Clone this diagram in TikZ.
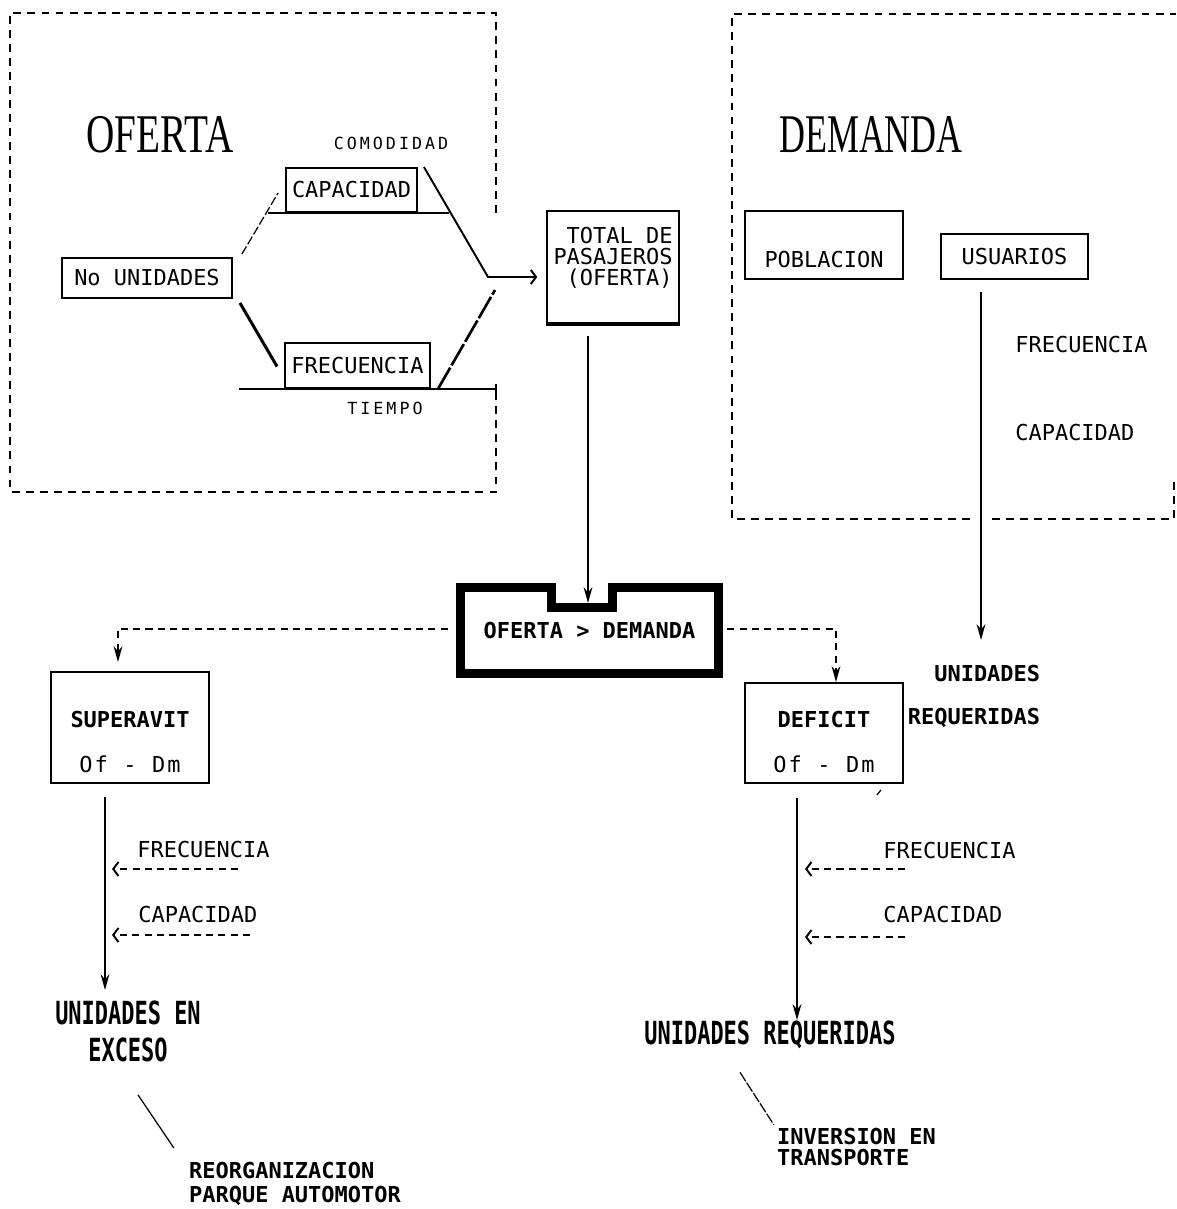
\documentclass[tikz,border=0pt]{standalone}
\usepackage{fontspec}
\usepackage{graphicx}
\usetikzlibrary{arrows.meta,positioning,calc}
\newfontfamily\plotfont{DejaVu Sans Mono}
\newfontfamily\plotwide[LetterSpace=10]{DejaVu Sans Mono}
\newfontfamily\plotsmall[LetterSpace=18]{DejaVu Sans Mono}
\newfontfamily\titlefont{Liberation Serif}
\newcommand{\narrowtitle}[2]{\scalebox{#1}[1]{#2}}
\newcommand{\tallbold}[1]{\scalebox{1}[1.45]{\bfseries #1}}
\tikzset{
  plotbox/.style={rectangle,draw,line width=1.1pt,inner sep=0pt,align=center,font=\plotfont\fontsize{12.5}{14}\selectfont},
  lbl/.style={inner sep=0pt,align=center,font=\plotfont\fontsize{12.5}{14}\selectfont},
  boldlbl/.style={lbl,font=\plotfont\bfseries\fontsize{12.5}{14}\selectfont},
  smalllbl/.style={inner sep=0pt,font=\plotsmall\fontsize{9.5}{11}\selectfont},
  titlelbl/.style={inner sep=0pt,font=\titlefont\fontsize{31}{34}\selectfont},
  frame/.style={line width=0.8pt,dash pattern=on 4.5pt off 3.5pt},
  link/.style={line width=1.1pt},
  arrow/.style={-{Stealth[length=9pt,width=5pt]},line width=1.1pt},
  dasharrow/.style={arrow,dash pattern=on 4pt off 3pt},
  feed/.style={-{Straight Barb[length=3pt,width=8pt]},line width=1.1pt,dash pattern=on 4pt off 3pt},
  hair/.style={line width=0.7pt}
}
\begin{document}
\begin{tikzpicture}[x=0.02cm,y=-0.02cm]
\useasboundingbox (0,0) rectangle (1176,1209);
\draw[frame] (496,213) -- (496,13) -- (10,13) -- (10,492) -- (496,492) -- (496,388);
\draw[frame] (970,519) -- (732,519) -- (732,14) -- (1176,14);
\draw[frame] (992,519) -- (1174,519) -- (1174,478);
\node[titlelbl] (oftitle) at (160,135) {\narrowtitle{0.72}{OFERTA}};
\node[titlelbl] (demtitle) at (871,135) {\narrowtitle{0.66}{DEMANDA}};
\node[smalllbl] (comod) at (391,143) {COMODIDAD};
\node[smalllbl] (tiempo) at (385,408) {TIEMPO};
\node[plotbox,minimum width=3.4cm,minimum height=0.8cm] (unid) at (147,278) {No UNIDADES};
\node[plotbox,minimum width=2.62cm,minimum height=0.88cm] (cap) at (351.5,190) {CAPACIDAD};
\node[plotbox,minimum width=2.9cm,minimum height=0.9cm] (frec) at (357.5,365.5) {FRECUENCIA};
\node[plotbox,minimum width=2.64cm,minimum height=2.24cm,align=right,font=\plotfont\fontsize{12.5}{12}\selectfont] (total) at (613,267) {TOTAL DE\\PASAJEROS\\(OFERTA)\\\mbox{}};
\node[plotbox,minimum width=3.16cm,minimum height=1.36cm] (pobl) at (824,245) {\rule{0pt}{25.6pt}POBLACION};
\node[plotbox,minimum width=2.94cm,minimum height=0.9cm] (usuarios) at (1014.5,256.5) {USUARIOS};
\node[lbl,anchor=west] (frecD) at (1015,345) {FRECUENCIA};
\node[lbl,anchor=west] (capD) at (1015,433) {CAPACIDAD};
\node[boldlbl,minimum width=5.16cm,minimum height=1.72cm] (ofdem) at (589.5,630.5) {OFERTA > DEMANDA};
\node[plotbox,minimum width=3.16cm,minimum height=2.22cm] (superavit) at (130,727.5) {\rule{0pt}{26pt}\textbf{SUPERAVIT}\\[11.5pt]{\plotwide Of - Dm}};
\node[plotbox,minimum width=3.16cm,minimum height=2cm] (deficit) at (824,733) {\rule{0pt}{19.5pt}\textbf{DEFICIT}\\[11.5pt]{\plotwide Of - Dm}};
\node[boldlbl,align=right] (ureqD) at (974,696.5) {UNIDADES\\[10.4pt]REQUERIDAS};
\node[lbl,anchor=west] (frecS) at (137,849) {FRECUENCIA};
\node[lbl,anchor=west] (capS) at (138,914) {CAPACIDAD};
\node[boldlbl] (uexc) at (128,1031) {\tallbold{UNIDADES EN}\\[7pt]\tallbold{EXCESO}};
\node[boldlbl,align=left,font=\plotfont\bfseries\fontsize{12.5}{13.6}\selectfont] (reorg) at (295,1184) {REORGANIZACION\\PARQUE AUTOMOTOR};
\node[lbl,anchor=west] (frecF) at (883,850) {FRECUENCIA};
\node[lbl,anchor=west] (capF) at (883,914) {CAPACIDAD};
\node[boldlbl] (ureqS) at (770,1035) {\tallbold{UNIDADES REQUERIDAS}};
\node[boldlbl,align=left,font=\plotfont\bfseries\fontsize{12.5}{12}\selectfont] (inv) at (856.5,1147) {INVERSION EN\\TRANSPORTE};
\coordinate (join) at (488,277);
\coordinate (notch) at (588,603);
\coordinate (uarr) at (981,640);
\coordinate (sv) at (105,990);
\coordinate (dv) at (797,1020);
\draw[link] ($(cap.south west)+(-17,0)$) -- ($(cap.south east)+(31,0)$);
\draw[link,-{Bar[width=6pt]}] ($(frec.south west)+(-45,0)$) -- ($(frec.south east)+(66,0)$);
\draw[hair,dash pattern=on 5pt off 1.5pt] ($(unid.north east)+(9,-3)$) -- ($(cap.west)+(-7,3)$);
\draw[line width=1.7pt] ($(unid.south east)+(7,4)$) -- ($(frec.west)+(-7,1)$);
\draw[link,-{Straight Barb[length=3pt,width=8pt]},shorten >=5pt] ($(cap.north east)+(6,0)$) -- (join) -- (join -| total.west);
\draw[line width=1.5pt,dash pattern=on 14pt off 1.5pt] ($(frec.south east)+(7,0)$) -- ($(join)+(7,13)$);
\draw[line width=2pt] (total.south west) -- (total.south east);
\draw[line width=5pt] (ofdem.north west) -- ++(91,0) -- ++(0,20) -- ++(61,0) -- ++(0,-20) -- (ofdem.north east) -- (ofdem.south east) -- (ofdem.south west) -- cycle;
\draw[arrow,shorten <=7pt] (notch |- total.south) -- (notch);
\draw[dasharrow] ($(ofdem.west)+(-12.5,-1.5)$) -| ($(superavit.north)+(-12,-9)$);
\draw[dasharrow] ($(ofdem.east)+(8.5,-1.5)$) -| ($(deficit.north)+(12,0)$);
\draw[arrow,shorten <=7pt] (uarr |- usuarios.south) -- (uarr);
\draw[arrow,shorten <=7.4pt] (sv |- superavit.south) -- (sv);
\draw[arrow,shorten <=8pt] (dv |- deficit.south) -- (dv);
\draw[feed] ($(frecS.west)+(101,20)$) -- ($(sv |- frecS.west)+(7,20)$);
\draw[feed] ($(capS.west)+(112,21)$) -- ($(sv |- capS.west)+(7,21)$);
\draw[feed] ($(frecF.west)+(22,19)$) -- ($(dv |- frecF.west)+(8,19)$);
\draw[feed] ($(capF.west)+(22,23)$) -- ($(dv |- capF.west)+(8,23)$);
\draw[hair] ($(uexc.south)+(10,33)$) -- ($(reorg.north west)+(-15,-14)$);
\draw[hair,dash pattern=on 6pt off 1pt] ($(ureqS.south)+(-30,23)$) -- ($(inv.north west)+(-3,-3)$);
\draw[hair] ($(deficit.south east)+(-27,11)$) -- ++(4,-5);
\end{tikzpicture}
\end{document}
